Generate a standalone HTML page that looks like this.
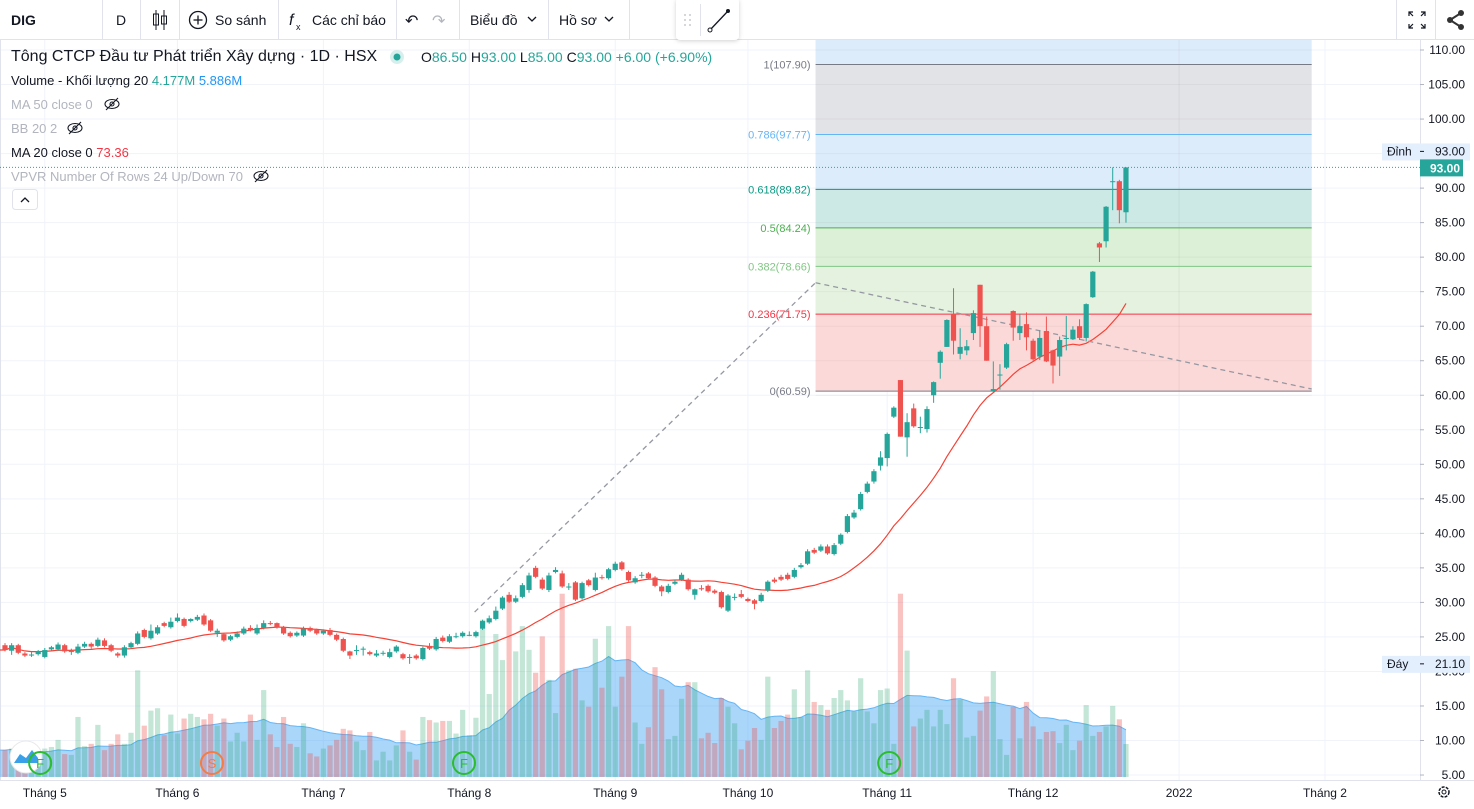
<!DOCTYPE html>
<html><head><meta charset="utf-8"><style>
html,body{margin:0;padding:0;background:#fff;width:1474px;height:809px;overflow:hidden;font-family:"Liberation Sans","Noto Sans CJK SC",sans-serif;}
svg{display:block}
text{font-family:"Liberation Sans","Noto Sans CJK SC",sans-serif}
</style></head><body>
<svg id="c" width="1474" height="809" viewBox="0 0 1474 809" xmlns="http://www.w3.org/2000/svg">
<defs><clipPath id="plot"><rect x="0" y="40" width="1420" height="740"/></clipPath>
<filter id="sh" x="-20%" y="-20%" width="140%" height="160%"><feDropShadow dx="0" dy="1" stdDeviation="2" flood-color="#000" flood-opacity="0.18"/></filter></defs>
<rect x="0" y="0" width="1474" height="809" fill="#fff"/>
<g id="grid"></g>
<g id="fib" clip-path="url(#plot)"></g>
<g id="vol" clip-path="url(#plot)"></g>
<g id="marks"></g>
<g id="ma" clip-path="url(#plot)"></g>
<g id="trend" clip-path="url(#plot)"></g>
<g id="candles" clip-path="url(#plot)"></g>
<g id="axis"></g>
<g id="taxis"></g>

<g>
<rect x="0" y="0" width="1474" height="39" fill="#fff"/>
<line x1="0" y1="39.5" x2="1474" y2="39.5" stroke="#e0e3eb"/>
<text x="11" y="25" font-size="14" font-weight="bold" fill="#131722">DIG</text>
<line x1="102.5" y1="0" x2="102.5" y2="39" stroke="#e0e3eb"/>
<text x="116" y="25" font-size="14" fill="#131722">D</text>
<line x1="140.5" y1="0" x2="140.5" y2="39" stroke="#e0e3eb"/>
<g stroke="#131722" fill="none"><line x1="156" y1="10" x2="156" y2="30"/><rect x="153.5" y="14" width="5" height="11"/><line x1="164" y1="10" x2="164" y2="30"/><rect x="161.5" y="16" width="5" height="8"/></g>
<line x1="179.5" y1="0" x2="179.5" y2="39" stroke="#e0e3eb"/>
<g><circle cx="198" cy="20" r="8.5" fill="none" stroke="#131722" stroke-width="1.3"/><line x1="193.5" y1="20" x2="202.5" y2="20" stroke="#131722" stroke-width="1.3"/><line x1="198" y1="15.5" x2="198" y2="24.5" stroke="#131722" stroke-width="1.3"/><text x="215" y="25" font-size="14" fill="#131722">So sánh</text></g>
<line x1="278.5" y1="0" x2="278.5" y2="39" stroke="#e0e3eb"/>
<g><text x="289" y="25" font-size="16" font-style="italic" fill="#131722">f</text><text x="296" y="30" font-size="9" fill="#131722">x</text><text x="312" y="25" font-size="14" fill="#131722">Các chỉ báo</text></g>
<line x1="396.5" y1="0" x2="396.5" y2="39" stroke="#e0e3eb"/>
<text x="405" y="26" font-size="16" fill="#131722">↶</text>
<text x="432" y="26" font-size="16" fill="#b2b5be">↷</text>
<line x1="459.5" y1="0" x2="459.5" y2="39" stroke="#e0e3eb"/>
<g><text x="470" y="25" font-size="14" fill="#131722">Biểu đồ</text><path d="M528 17 l4 4 l4 -4" stroke="#131722" fill="none" stroke-width="1.3"/></g>
<line x1="548.5" y1="0" x2="548.5" y2="39" stroke="#e0e3eb"/>
<g><text x="559" y="25" font-size="14" fill="#131722">Hồ sơ</text><path d="M605 17 l4 4 l4 -4" stroke="#131722" fill="none" stroke-width="1.3"/></g>
<line x1="629.5" y1="0" x2="629.5" y2="39" stroke="#e0e3eb"/>
<g><rect x="676" y="-2" width="63" height="42" rx="4" fill="#fff" filter="url(#sh)"/>
<g fill="#c8cad0"><circle cx="685" cy="15" r="1"/><circle cx="690" cy="15" r="1"/><circle cx="685" cy="20" r="1"/><circle cx="690" cy="20" r="1"/><circle cx="685" cy="25" r="1"/><circle cx="690" cy="25" r="1"/></g>
<line x1="700.5" y1="4" x2="700.5" y2="36" stroke="#e0e3eb"/>
<line x1="710" y1="30" x2="728" y2="11" stroke="#131722" stroke-width="1.3"/><circle cx="710" cy="30" r="2" fill="#fff" stroke="#131722"/><circle cx="728" cy="11" r="2" fill="#131722"/></g>
<line x1="1396.5" y1="0" x2="1396.5" y2="39" stroke="#e0e3eb"/>
<g stroke="#131722" fill="none" stroke-width="1.2"><path d="M1409 16 v-4 h4 M1409 12 l4 4 M1425 16 v-4 h-4 M1425 12 l-4 4 M1409 24 v4 h4 M1409 28 l4 -4 M1425 24 v4 h-4 M1425 28 l-4 -4"/></g>
<line x1="1435.5" y1="0" x2="1435.5" y2="39" stroke="#e0e3eb"/>
<g><circle cx="1461" cy="13" r="3" fill="#333"/><circle cx="1450" cy="20" r="3" fill="#333"/><circle cx="1461" cy="27" r="3" fill="#333"/><path d="M1461 13 L1450 20 L1461 27" stroke="#333" stroke-width="2" fill="none"/></g>
</g>

<g>
<text x="11" y="61" font-size="16" fill="#131722">Tông CTCP Đầu tư Phát triển Xây dựng · 1D · HSX</text>
<circle cx="397" cy="57" r="7" fill="#d7efec"/><circle cx="397" cy="57" r="3.5" fill="#26a69a"/>
<text x="421" y="62" font-size="14" fill="#26a69a"><tspan fill="#131722">O</tspan>86.50 <tspan fill="#131722">H</tspan>93.00 <tspan fill="#131722">L</tspan>85.00 <tspan fill="#131722">C</tspan>93.00 +6.00 (+6.90%)</text>
<text x="11" y="85" font-size="13" fill="#131722">Volume - Khối lượng 20 <tspan fill="#26a69a">4.177M</tspan> <tspan fill="#2196f3">5.886M</tspan></text>
<text x="11" y="109" font-size="13" fill="#b2b5be">MA 50 close 0</text>
<text x="11" y="133" font-size="13" fill="#b2b5be">BB 20 2</text>
<text x="11" y="157" font-size="13" fill="#131722">MA 20 close 0 <tspan fill="#f23645">73.36</tspan></text>
<text x="11" y="181" font-size="13" fill="#b2b5be">VPVR Number Of Rows 24 Up/Down 70</text>
<g fill="none" stroke="#131722" stroke-width="1.1">
<g><ellipse cx="112" cy="104" rx="7" ry="4.5"/><circle cx="112" cy="104" r="2"/><line x1="106" y1="110" x2="118" y2="98"/></g>
<g><ellipse cx="75" cy="128" rx="7" ry="4.5"/><circle cx="75" cy="128" r="2"/><line x1="69" y1="134" x2="81" y2="122"/></g>
<g><ellipse cx="261" cy="176" rx="7" ry="4.5"/><circle cx="261" cy="176" r="2"/><line x1="255" y1="182" x2="267" y2="170"/></g>
</g>
<g><rect x="12.5" y="189.5" width="25" height="20" rx="3" fill="#fff" stroke="#e0e3eb"/><path d="M21 202 l4 -4 l4 4" stroke="#131722" fill="none" stroke-width="1.3"/></g>
</g>
</svg>
<script>
const opens = [23.8,23.0,23.8,22.6,22.4,22.5,22.1,23.2,23.2,23.8,22.9,22.7,23.6,24.0,23.7,24.5,23.8,22.6,22.3,23.5,24.0,26.0,24.8,25.5,27.0,26.4,27.3,27.6,27.3,27.5,28.1,27.4,25.6,25.4,24.6,25.0,25.5,26.3,25.5,26.3,27.0,27.0,26.4,25.6,25.2,25.2,26.3,26.0,25.5,26.0,25.3,24.7,22.9,23.05,23.25,22.8,22.3,22.65,22.1,22.9,22.5,22.05,22.3,21.8,23.7,23.2,24.9,24.3,25.05,25.1,25.25,25.1,26.2,27.1,27.6,29.1,31.1,30.1,30.8,31.8,35.0,33.3,31.8,34.4,34.2,32.25,32.9,30.6,33.2,31.8,33.65,33.5,34.7,35.8,34.4,32.9,33.95,34.2,33.6,32.3,31.5,32.7,33.3,33.3,31.1,32.05,32.4,31.7,31.5,28.8,30.75,31.2,30.5,30.3,30.2,31.7,33.3,33.7,34.0,33.7,35.1,35.6,37.6,37.5,38.1,37.0,38.5,40.2,42.3,43.5,46.0,47.5,49.8,50.9,56.9,62.2,53.9,58.1,55.35,55.1,60.0,64.7,67.0,71.8,66.0,66.5,69.0,76.0,70.0,60.6,62.95,64.0,72.2,69.0,70.3,67.9,65.6,69.3,66.5,65.6,68.25,68.1,70.0,68.3,74.2,82.0,82.3,90.9,91.0,86.5];
const closes = [23.1,23.8,22.7,22.3,22.45,22.9,23.1,23.5,23.9,22.9,22.95,23.6,24.0,23.6,24.6,23.7,23.0,22.3,23.5,24.1,25.5,25.0,25.9,26.4,26.6,27.2,27.8,26.6,27.6,27.9,26.8,25.9,25.9,24.5,25.1,25.5,26.2,26.0,26.3,27.0,26.9,26.4,25.5,25.1,25.6,26.2,25.9,25.5,25.9,25.3,24.6,23.0,22.3,23.1,23.3,22.5,22.6,22.7,22.8,23.6,21.9,22.1,21.9,23.4,23.3,24.7,24.4,25.1,25.1,25.6,25.3,25.7,27.3,27.7,28.8,30.7,30.1,30.6,32.5,33.9,33.7,32.0,33.9,34.7,32.3,32.3,30.4,32.8,32.5,33.6,33.6,34.8,35.6,34.8,33.2,33.5,34.0,33.5,32.4,31.6,32.4,33.0,34.0,31.9,31.9,32.0,31.6,31.4,29.3,31.0,30.8,30.8,30.2,29.8,31.1,33.0,33.0,33.3,33.4,34.7,35.4,37.4,37.2,38.1,37.1,38.3,39.8,42.5,43.0,45.7,47.2,49.0,51.0,54.4,58.2,54.0,56.1,55.5,55.4,58.0,61.9,66.3,70.9,67.9,67.0,67.1,71.9,70.0,65.0,60.9,63.0,67.4,69.8,70.0,68.4,65.2,68.3,64.9,64.3,68.0,68.3,69.5,68.3,73.2,77.9,81.4,87.3,91.0,86.8,93.0];
const highs = [24.1,24.1,24.0,22.8,22.8,23.1,23.4,23.7,24.2,24.0,23.3,24.0,24.3,24.2,24.9,24.8,24.0,22.8,23.8,24.3,25.8,26.2,26.8,26.7,27.2,27.8,28.4,27.8,27.7,28.2,28.4,27.6,26.2,25.6,25.3,25.8,26.5,26.7,26.8,27.4,27.3,27.1,26.6,25.8,25.8,26.5,26.5,26.2,26.1,26.3,25.5,24.9,23.0,23.8,23.6,23.0,23.1,23.0,23.3,23.8,22.7,22.5,22.5,23.6,24.1,25.0,25.2,25.4,25.6,25.8,25.8,25.9,27.5,28.1,29.4,30.9,31.5,31.0,32.8,34.3,35.3,33.6,34.3,35.1,34.6,32.8,33.1,33.0,33.4,34.3,34.0,35.0,35.9,36.0,34.6,33.8,34.4,34.4,33.8,32.5,32.7,33.3,34.3,33.5,32.0,32.5,32.6,31.9,31.7,31.2,31.3,31.8,30.7,30.5,31.4,33.2,33.6,34.0,34.3,35.0,35.7,37.7,37.9,38.4,38.4,38.6,40.0,42.8,43.4,46.0,47.5,49.3,51.9,54.6,58.4,62.2,57.4,58.8,56.9,58.4,62.0,66.5,71.0,75.5,69.7,68.0,72.3,76.0,71.4,64.9,64.5,67.6,72.3,71.8,72.0,68.2,69.4,71.4,66.6,68.5,71.5,70.0,71.0,73.3,78.0,82.2,87.4,93.0,91.2,93.0];
const lows = [22.9,22.4,22.5,22.1,22.1,22.3,21.9,23.0,23.0,22.7,22.4,22.5,23.4,23.3,23.5,23.5,22.8,22.0,22.0,23.3,23.8,24.8,24.6,25.3,26.4,26.2,27.1,26.4,27.1,27.3,26.6,25.7,25.0,24.3,24.4,24.8,25.3,25.8,25.3,26.1,26.7,26.2,25.3,24.9,25.0,25.0,25.7,25.3,25.3,25.1,24.4,22.8,21.8,22.4,22.3,22.3,22.1,22.3,21.9,22.7,21.7,21.1,21.7,21.6,23.1,23.0,24.2,24.1,24.8,24.9,25.1,24.9,26.0,26.9,27.4,28.9,29.9,29.9,30.6,31.4,33.5,31.8,31.5,34.2,32.1,31.8,30.2,30.4,32.3,31.6,33.3,33.3,34.5,34.6,33.0,32.7,33.5,33.3,32.2,30.9,31.3,32.5,33.1,31.7,30.4,31.7,31.4,31.2,29.1,28.6,30.3,30.6,30.0,29.0,30.0,31.5,32.8,33.1,33.2,33.5,34.9,35.4,37.0,37.3,36.9,36.8,38.3,40.0,42.1,43.3,45.8,47.2,49.1,49.7,56.7,54.0,51.1,55.3,54.5,54.6,58.9,62.4,67.0,65.9,65.2,65.8,68.0,67.0,65.0,60.5,60.8,63.8,67.9,68.0,66.5,65.0,65.1,64.8,61.7,62.8,66.5,68.0,68.0,67.8,74.1,79.3,81.4,86.8,84.9,85.0];
const volumes = [3.4,3.6,3.0,2.3,3.0,3.5,3.6,3.8,4.7,2.9,2.8,7.6,3.9,4.2,6.6,3.4,4.2,5.4,4.2,5.6,13.5,6.5,8.4,8.7,5.3,7.9,5.5,7.4,8.0,7.6,7.3,8.0,6.5,7.4,4.5,5.6,4.5,7.9,4.7,11.0,5.4,3.8,7.6,4.2,3.8,6.8,3.0,2.6,3.6,4.0,4.7,6.1,5.9,4.5,3.4,5.7,2.1,3.2,2.1,4.0,5.9,3.2,2.2,7.6,7.2,6.9,7.1,7.1,5.5,8.5,5.3,7.5,19.9,10.5,18.1,14.8,22.4,15.9,19.1,16.1,13.2,17.8,12.3,8.1,23.2,13.5,13.7,9.7,8.9,17.5,11.3,19.1,8.9,12.7,19.1,6.9,4.2,6.3,13.9,11.1,4.8,5.2,9.9,12.0,12.0,4.9,5.6,4.3,10.0,8.9,6.8,3.5,4.6,6.2,4.7,12.7,6.2,7.1,7.9,11.1,7.6,13.5,9.5,9.1,8.5,10.0,11.0,9.7,8.3,12.5,8.3,6.8,11.0,11.2,4.2,23.2,16.0,6.4,7.4,8.5,6.4,8.5,6.7,12.5,9.8,5.0,5.2,8.4,10.2,13.4,4.8,2.8,8.9,4.9,9.5,6.4,4.8,5.7,5.8,4.3,6.6,3.4,4.6,9.1,5.2,5.7,6.4,9.0,7.3,4.177];
const priceTicks = [110,105,100,90,85,80,75,70,65,60,55,50,45,40,35,30,25,20,15,10,5];
const monthLabels = ["Tháng 5","Tháng 6","Tháng 7","Tháng 8","Tháng 9","Tháng 10","Tháng 11","Tháng 12","2022","Tháng 2"];
const monthIndex = [6,26,48,70,92,112,133,155,177,199];
const fibRatios = [1,0.786,0.618,0.5,0.382,0.236,0];
const fibPrices = [107.90,97.77,89.82,84.24,78.66,71.75,60.59];
const fibColors = ["#787b86","#64b5f6","#089981","#4caf50","#81c784","#f23645","#787b86"];
const fibFills = ["#e2e3e6","#ddecfb","#cde9e6","#dcefd7","#e4f2df","#fcd9d9"];
const fibStartIdx = 122.2, fibEndIdx = 197;
const trendA = [[70.8,28.6],[122.2,76.3]];
const trendB = [[122.2,76.3],[197,60.9]];
const markerIdx = [5.3,31.2,69.2,133.3];
const markerLabels = ["F","S","F","F"];
const markerColors = ["#2bbd2b","#f57c42","#2bbd2b","#2bbd2b"];
const topLabel = 93.00, bottomLabel = 21.10, lastPrice = 93.00;

const NS="http://www.w3.org/2000/svg";
const xs = i => 5 + i*6.633;
const ys = p => 50 + (110-p)*6.905;
const yv = v => 777 - v*7.9;
function mk(tag, attrs, parent){const e=document.createElementNS(NS,tag);for(const k in attrs)e.setAttribute(k,attrs[k]);parent.appendChild(e);return e;}
const G = id => document.getElementById(id);

const grid=G('grid');
for(const p of [110,105,100,95,90,85,80,75,70,65,60,55,50,45,40,35,30,25,20,15,10,5]){
  const l=mk('line',{x1:0,x2:1420,y1:ys(p),y2:ys(p),stroke:'#f0f3fa'},grid);
  
  
}
monthIndex.forEach(mi=>{
  const l=mk('line',{x1:xs(mi),x2:xs(mi),y1:40,y2:780,stroke:'#f0f3fa'},grid);
  
  
});
mk('line',{x1:0.5,x2:0.5,y1:40,y2:780,stroke:'#e0e3eb'},grid);

const fib=G('fib');
const fx1=xs(fibStartIdx), fx2=xs(fibEndIdx);
{const r=mk('rect',{x:fx1,y:40,width:fx2-fx1,height:ys(fibPrices[0])-40,fill:'#ddecfb'},fib);

}
for(let k=0;k<fibFills.length;k++){
  const r=mk('rect',{x:fx1,y:ys(fibPrices[k]),width:fx2-fx1,height:ys(fibPrices[k+1])-ys(fibPrices[k]),fill:fibFills[k]},fib);
  
  
}
for(const p of [110,105,100,95,90,85,80,75,70,65,60]){
  mk('line',{x1:fx1,x2:fx2,y1:ys(p),y2:ys(p),stroke:'rgba(0,0,0,0.04)'},fib);
}
mk('line',{x1:xs(177),x2:xs(177),y1:40,y2:ys(60.59),stroke:'rgba(0,0,0,0.05)'},fib);
fibRatios.forEach((r,k)=>{
  const y=ys(fibPrices[k]);
  const l=mk('line',{x1:fx1,x2:fx2,y1:y,y2:y,stroke:fibColors[k],'stroke-width':1},fib);
  
  
  const t=mk('text',{x:fx1-5,y:y+4,'font-size':11,'text-anchor':'end',fill:fibColors[k]},fib);
  t.textContent=r+'('+fibPrices[k].toFixed(2)+')';
  
  
});

const volMA = volumes.map((v,i)=>{const s=Math.max(0,i-19);const a=volumes.slice(s,i+1);return a.reduce((x,y)=>x+y,0)/a.length;});
const vol=G('vol');
let d='M0,'+yv(volMA[0]);
volMA.forEach((v,i)=>{d+=' L'+xs(i).toFixed(1)+','+yv(v).toFixed(1);});
d+=' L'+xs(volMA.length-1).toFixed(1)+',777 L0,777 Z';
{const a=mk('path',{d:d,fill:'rgba(66,165,245,0.45)'},vol);

}
let dl='M0,'+yv(volMA[0]);
volMA.forEach((v,i)=>{dl+=' L'+xs(i).toFixed(1)+','+yv(v).toFixed(1);});
mk('path',{d:dl,fill:'none',stroke:'#64b5f6','stroke-width':1},vol);
volumes.forEach((v,i)=>{
  const up=closes[i]>=opens[i];
  const b=mk('rect',{x:xs(i)-2.6,y:yv(v),width:5.2,height:777-yv(v),fill:up?'rgba(38,166,110,0.28)':'rgba(239,83,80,0.35)'},vol);
  
  
});

const marks=G('marks');
{const g=mk('g',{},marks);


mk('circle',{cx:26,cy:757,r:16,fill:'#fff',stroke:'#e8e8e8'},g);
mk('path',{d:'M14 763 L20 754 L26 758 L32 750 L38 758 L38 763 Z',fill:'#3aa0e8'},g);}
markerIdx.forEach((mi,k)=>{
  const c=mk('circle',{cx:xs(mi),cy:763,r:11,fill:'none',stroke:markerColors[k],'stroke-width':2},marks);
  
  
  const t=mk('text',{x:xs(mi),y:768,'font-size':13,'text-anchor':'middle',fill:markerColors[k]},marks);
  t.textContent=markerLabels[k];
});

const ma20 = closes.map((v,i)=>{const s=Math.max(0,i-19);const a=closes.slice(s,i+1);return a.reduce((x,y)=>x+y,0)/a.length;});
let dm='M0,'+ys(ma20[0]).toFixed(1);
ma20.forEach((v,i)=>{dm+=' L'+xs(i).toFixed(1)+','+ys(v).toFixed(1);});
{const p=mk('path',{d:dm,fill:'none',stroke:'#f44336','stroke-width':1.2},G('ma'));

}

[trendA,trendB].forEach(tl=>{
  const l=mk('line',{x1:xs(tl[0][0]),y1:ys(tl[0][1]),x2:xs(tl[1][0]),y2:ys(tl[1][1]),stroke:'#9598a1','stroke-width':1.3,'stroke-dasharray':'5 4'},G('trend'));
  
  
});

const cg=G('candles');
opens.forEach((o,i)=>{
  const c=closes[i], up=c>=o, col=up?'#26a69a':'#ef5350', x=xs(i);
  const g=mk('g',{},cg);
  
  
  mk('line',{x1:x,x2:x,y1:ys(highs[i]),y2:ys(lows[i]),stroke:col,'stroke-width':1},g);
  const top=ys(Math.max(o,c)), bot=ys(Math.min(o,c));
  mk('rect',{x:x-2.6,y:top,width:5.2,height:Math.max(1,bot-top),fill:col},g);
});
mk('line',{x1:0,x2:1420,y1:ys(lastPrice),y2:ys(lastPrice),stroke:'#26a69a','stroke-dasharray':'1 2'},cg);

const ax=G('axis');
mk('rect',{x:1420,y:40,width:54,height:740,fill:'#fff'},ax);
mk('line',{x1:1420.5,x2:1420.5,y1:40,y2:780,stroke:'#e0e3eb'},ax);
priceTicks.forEach(p=>{
  mk('line',{x1:1420,x2:1424,y1:ys(p),y2:ys(p),stroke:'#b2b5be'},ax);
  const t=mk('text',{x:1465,y:ys(p)+4,'font-size':12,'text-anchor':'end',fill:'#131722'},ax);
  t.textContent=p.toFixed(2);
  
  
});
function sideLabel(name,price,key,dy){
  const y=ys(price)+dy;
  const g=mk('g',{},ax);
  
  
  mk('rect',{x:1382,y:y-8,width:38,height:17,fill:'#e3effd'},g);
  mk('rect',{x:1420,y:y-8,width:50,height:17,fill:'#e3effd'},g);
  const t=mk('text',{x:1387,y:y+4,'font-size':12,fill:'#131722'},g);t.textContent=name;
  const v=mk('text',{x:1465,y:y+4,'font-size':12,'text-anchor':'end',fill:'#131722'},g);v.textContent=price.toFixed(2);
  mk('line',{x1:1420,x2:1424,y1:y,y2:y,stroke:'#131722'},g);
}
sideLabel('Đỉnh',topLabel,'high-label',-16);
sideLabel('Đáy',bottomLabel,'low-label',0);
{const g=mk('g',{},ax);


mk('rect',{x:1420,y:ys(lastPrice)-8,width:43,height:17,fill:'#26a69a'},g);
const t=mk('text',{x:1460,y:ys(lastPrice)+5,'font-size':12,'font-weight':'bold','text-anchor':'end',fill:'#fff'},g);t.textContent=lastPrice.toFixed(2);}

const ta=G('taxis');
mk('rect',{x:0,y:780,width:1474,height:29,fill:'#fff'},ta);
mk('line',{x1:0,x2:1474,y1:780.5,y2:780.5,stroke:'#e0e3eb'},ta);
monthLabels.forEach((m,k)=>{
  const t=mk('text',{x:xs(monthIndex[k]),y:797,'font-size':12,'text-anchor':'middle',fill:'#131722'},ta);
  t.textContent=m;
  
  
});
{const g=mk('g',{},ta);


mk('circle',{cx:1444,cy:792,r:5,fill:'none',stroke:'#131722','stroke-width':1.5,'stroke-dasharray':'3 1.2'},g);
mk('circle',{cx:1444,cy:792,r:2,fill:'none',stroke:'#131722'},g);}
</script>
</body></html>
